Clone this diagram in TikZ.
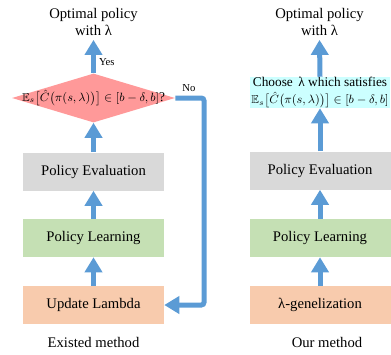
\documentclass[tikz,border=0pt]{standalone}
\usepackage{amsmath,amssymb}
\usepackage{fontspec}
\setmainfont{Liberation Serif}
\usetikzlibrary{arrows.meta}
\usetikzlibrary{shapes.geometric}
\usetikzlibrary{calc}
\definecolor{flowblue}{HTML}{5B9BD5}
\definecolor{evalgray}{HTML}{D9D9D9}
\definecolor{learngreen}{HTML}{C5E0B4}
\definecolor{lambdaorange}{HTML}{F8CBAD}
\definecolor{checkpink}{HTML}{FF9999}
\definecolor{choosecyan}{HTML}{CCFFFF}
\newcommand{\costcond}{{\fontsize{8.6}{10}\selectfont$\mathbb{E}_s\big[\hat{C}\big(\pi(s,\lambda)\big)\big]\in[b-\delta,b]$}}

\tikzset{
  stepbox/.style={minimum width=105.75pt, minimum height=28.5pt, inner sep=0pt, font=\fontsize{11}{13}\selectfont},
  flow/.style={draw=flowblue, line width=3.75pt, -{Triangle[width=12.75pt,length=11.25pt]}},
  caption/.style={align=center, font=\fontsize{11}{12.75}\selectfont},
  small label/.style={font=\fontsize{8}{9.6}\selectfont},
}

\begin{document}
\begin{tikzpicture}[x=0.75pt,y=-0.75pt]
	\useasboundingbox (0,0) rectangle (391,354);
	% existed method
	\node[caption] (optA) at (93.5,21.5) {Optimal policy\\with λ};
	\node[diamond, fill=checkpink, minimum width=122.25pt, minimum height=36.75pt, inner sep=0pt] (check) at (93.5,98) {};
	\node[inner sep=0pt, font=\fontsize{10}{12}\selectfont] (checktext) at (check) {\costcond?};
	\node[stepbox, fill=evalgray] (evalA) at (93.5,171.5) {Policy Evaluation};
	\node[stepbox, fill=learngreen] (learnA) at (93.5,238) {Policy Learning};
	\node[stepbox, fill=lambdaorange] (update) at (93.5,305) {Update Lambda};
	\node[caption] (nameA) at (93.5,342) {Existed method};
	
	% our method
	\node[caption] (optB) at (319.5,21.5) {Optimal policy\\with λ};
	\node[fill=choosecyan, minimum width=105pt, minimum height=23.25pt, inner sep=0pt, align=center, font=\fontsize{10}{13}\selectfont] (choose) at (320,92.5) {Choose \,λ which satisfies\\\costcond};
	\node[stepbox, fill=evalgray] (evalB) at (320,170.5) {Policy Evaluation};
	\node[stepbox, fill=learngreen] (learnB) at (320,238) {Policy Learning};
	\node[stepbox, fill=lambdaorange] (general) at (320,305) {λ-genelization};
	\node[caption] (nameB) at (327,342) {Our method};
	
	% arrows
	\draw[flow] (check.north) -- (optA.south) node[small label, pos=0.35, right, xshift=-1pt] (yes) {Yes};
	\draw[flow] (evalA.north) -- (check.south);
	\draw[flow] (learnA.north) -- (evalA.south);
	\draw[flow] (update.north) -- (learnA.south);
	\coordinate (turn) at (204,98);
	\draw[flow, rounded corners=2pt] (check.east) -- (turn) |- (update.east);
	\node[small label] (no) at (189,88) {No};
	
	\draw[flow] (choose.north) -- (optB.south);
	\draw[flow] (evalB.north) -- (choose.south);
	\draw[flow] (learnB.north) -- (evalB.south);
	\draw[flow] (general.north) -- (learnB.south);
\end{tikzpicture}
\end{document}
